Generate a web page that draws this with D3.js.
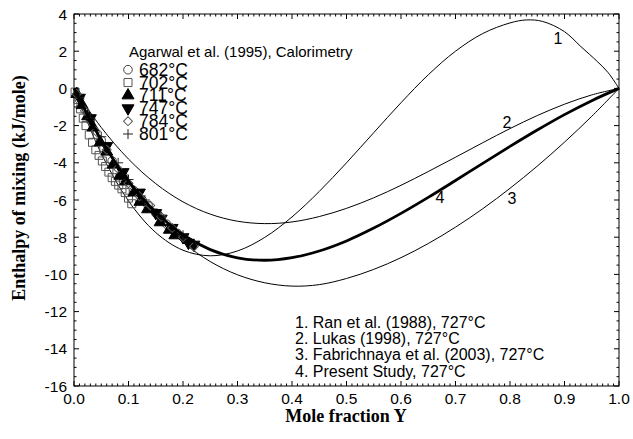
<!DOCTYPE html>
<html>
<head>
<meta charset="utf-8">
<script src="https://cdn.jsdelivr.net/npm/d3@7/dist/d3.min.js"></script>
<style>
  html, body { margin: 0; padding: 0; background: #fff; }
  svg { display: block; }
</style>
</head>
<body>
<svg id="chart" width="633" height="439"></svg>
<script>
// ---- tick labels ----
const xTickValues = [0, 0.1, 0.2, 0.3, 0.4, 0.5, 0.6, 0.7, 0.8, 0.9, 1.0];
const yTickValues = [4, 2, 0, -2, -4, -6, -8, -10, -12, -14, -16];

// ---- calculated enthalpy curves at 727 °C ----
const ranX   = [0, 0.05, 0.1, 0.15, 0.2, 0.25, 0.3, 0.35, 0.4, 0.45, 0.5, 0.55, 0.6, 0.65, 0.7, 0.75, 0.8, 0.83, 0.86, 0.9, 0.93, 0.96, 0.98, 1.0];
const ranY   = [0, -3.50, -6.05, -7.75, -8.70, -9.00, -8.74, -8.01, -6.91, -5.54, -4.00, -2.38, -0.77, 0.73, 2.00, 2.95, 3.52, 3.68, 3.60, 3.05, 2.25, 1.45, 0.85, 0];

const curveX = [0, 0.05, 0.1, 0.15, 0.2, 0.25, 0.3, 0.35, 0.4, 0.45, 0.5, 0.55, 0.6, 0.65, 0.7, 0.75, 0.8, 0.85, 0.9, 0.95, 1.0];
const lukasY = [0, -2.10, -3.80, -5.12, -6.10, -6.76, -7.14, -7.27, -7.18, -6.89, -6.45, -5.88, -5.21, -4.47, -3.70, -2.92, -2.16, -1.46, -0.85, -0.35, 0];
const fabrY  = [0, -2.79, -5.07, -6.88, -8.28, -9.31, -10.02, -10.45, -10.63, -10.55, -10.22, -9.73, -9.10, -8.34, -7.46, -6.47, -5.37, -4.18, -2.89, -1.50, 0];
const presY  = [0, -2.78, -4.98, -6.65, -7.87, -8.67, -9.11, -9.24, -9.10, -8.74, -8.20, -7.51, -6.72, -5.86, -4.95, -4.03, -3.12, -2.24, -1.41, -0.66, 0];

// ---- Agarwal et al. (1995) calorimetry ----
const t682X = [0.01, 0.03, 0.05, 0.07, 0.09, 0.11, 0.125, 0.136, 0.15, 0.17, 0.19];
const t682Y = [-0.6, -1.7, -2.8, -3.9, -4.7, -5.5, -6.0, -6.3, -6.7, -7.3, -7.8];
const t702X = [0.002, 0.007, 0.012, 0.017, 0.022, 0.028, 0.034, 0.040, 0.046, 0.052, 0.058, 0.064, 0.070, 0.076, 0.082, 0.088, 0.094, 0.100, 0.106];
const t702Y = [-0.2, -0.6, -1.1, -1.6, -2.0, -2.5, -2.9, -3.3, -3.6, -3.9, -4.2, -4.5, -4.8, -5.0, -5.2, -5.4, -5.6, -5.9, -6.2];
const t711X = [0.005, 0.015, 0.025, 0.035, 0.048, 0.06, 0.072, 0.084, 0.095, 0.11, 0.121, 0.135, 0.158, 0.175, 0.185];
const t711Y = [-0.3, -0.9, -1.5, -2.1, -2.9, -3.4, -4.1, -4.7, -5.0, -5.6, -6.1, -6.5, -7.2, -7.6, -7.9];
const t747X = [0.01, 0.03, 0.06, 0.09, 0.12, 0.15, 0.16, 0.18, 0.2, 0.21, 0.22];
const t747Y = [-0.5, -1.6, -3.1, -4.5, -5.6, -6.7, -7.0, -7.5, -8.0, -8.3, -8.4];
const t784X = [0.005, 0.02, 0.04, 0.06, 0.08, 0.1, 0.12, 0.14, 0.16, 0.18, 0.2, 0.22];
const t784Y = [-0.3, -1.2, -2.3, -3.3, -4.3, -5.1, -5.8, -6.3, -6.9, -7.5, -8.0, -8.5];
const t801X = [0.01, 0.03, 0.05, 0.081, 0.1, 0.13, 0.16, 0.2];
const t801Y = [-0.5, -1.6, -2.6, -4.0, -4.9, -6.0, -6.9, -7.9];

const seriesLabels = ["682°C", "702°C", "711°C", "747°C", "784°C", "801°C"];
const curveLabels = ["1. Ran et al. (1988), 727°C", "2. Lukas (1998), 727°C",
                     "3. Fabrichnaya et al. (2003), 727°C", "4. Present Study, 727°C"];

// ---- layout ----
const svg = d3.select("#chart");
const x = d3.scaleLinear().domain([0, 1]).range([74, 619]);
const y = d3.scaleLinear().domain([-16, 4]).range([386, 14]);
const sans = "'Liberation Sans', Arial, sans-serif";
const serif = "'Liberation Serif', 'Times New Roman', serif";

// frame
svg.append("rect")
  .attr("x", x(0)).attr("y", y(4))
  .attr("width", x(1) - x(0)).attr("height", y(-16) - y(4))
  .attr("fill", "none").attr("stroke", "#000").attr("stroke-width", 1);

// inward ticks on all four sides
const xMinor = d3.range(0, 101).map(i => i / 100);
const yMinor = d3.range(0, 41).map(i => -16 + i * 0.5);
const tickG = svg.append("g").attr("stroke", "#000").attr("stroke-width", 1);
xMinor.forEach(v => {
  const major = Math.abs(v * 10 - Math.round(v * 10)) < 1e-6;
  const len = major ? 5 : 2.5;
  tickG.append("line").attr("x1", x(v)).attr("x2", x(v)).attr("y1", y(-16)).attr("y2", y(-16) - len);
  tickG.append("line").attr("x1", x(v)).attr("x2", x(v)).attr("y1", y(4)).attr("y2", y(4) + len);
});
yMinor.forEach(v => {
  const major = Math.abs(v / 2 - Math.round(v / 2)) < 1e-6;
  const len = major ? 5 : 2.5;
  tickG.append("line").attr("x1", x(0)).attr("x2", x(0) + len).attr("y1", y(v)).attr("y2", y(v));
  tickG.append("line").attr("x1", x(1)).attr("x2", x(1) - len).attr("y1", y(v)).attr("y2", y(v));
});

// tick labels
svg.append("g").selectAll("text").data(xTickValues).join("text")
  .attr("x", d => x(d)).attr("y", 403.5)
  .attr("text-anchor", "middle")
  .attr("font-family", sans).attr("font-size", 15.5)
  .text(d => d.toFixed(1));
svg.append("g").selectAll("text").data(yTickValues).join("text")
  .attr("x", 67).attr("y", d => y(d))
  .attr("dy", "0.36em")
  .attr("text-anchor", "end")
  .attr("font-family", sans).attr("font-size", 15.5)
  .text(d => String(d));

// axis titles
svg.append("text")
  .attr("x", 346).attr("y", 422)
  .attr("text-anchor", "middle")
  .attr("font-family", serif).attr("font-weight", "bold").attr("font-size", 18)
  .text("Mole fraction Y");
svg.append("text")
  .attr("transform", "translate(25,188) rotate(-90)")
  .attr("text-anchor", "middle")
  .attr("font-family", serif).attr("font-weight", "bold").attr("font-size", 18)
  .text("Enthalpy of mixing (kJ/mole)");

// calculated curves
const line = d3.line()
  .x(d => x(d[0])).y(d => y(d[1]))
  .curve(d3.curveCatmullRom.alpha(0.5));
const zip = (a, b) => a.map((v, i) => [v, b[i]]);
const curveG = svg.append("g").attr("fill", "none").attr("stroke", "#000");
curveG.append("path").attr("d", line(zip(ranX, ranY))).attr("stroke-width", 1);
curveG.append("path").attr("d", line(zip(curveX, lukasY))).attr("stroke-width", 1);
curveG.append("path").attr("d", line(zip(curveX, fabrY))).attr("stroke-width", 1);

// experimental points
const markerDefs = [
  { xs: t682X, ys: t682Y, type: d3.symbolCircle,   size: 58, fill: "none", stroke: "#444", rot: 0 },
  { xs: t702X, ys: t702Y, type: d3.symbolSquare,   size: 64, fill: "none", stroke: "#555", rot: 0 },
  { xs: t711X, ys: t711Y, type: d3.symbolTriangle, size: 62, fill: "#000", stroke: "#000", rot: 0 },
  { xs: t747X, ys: t747Y, type: d3.symbolTriangle, size: 62, fill: "#000", stroke: "#000", rot: 180 },
  { xs: t784X, ys: t784Y, type: d3.symbolSquare,   size: 40, fill: "none", stroke: "#555", rot: 45 },
  { xs: t801X, ys: t801Y, type: null,              size: 5,  fill: "none", stroke: "#222", rot: 0 }
];
function drawMarker(g, def, px, py) {
  if (def.type === null) {
    g.append("path")
      .attr("d", `M${px - def.size},${py}H${px + def.size}M${px},${py - def.size}V${py + def.size}`)
      .attr("stroke", def.stroke).attr("stroke-width", 1).attr("fill", "none");
    return;
  }
  g.append("path")
    .attr("d", d3.symbol().type(def.type).size(def.size)())
    .attr("transform", `translate(${px},${py}) rotate(${def.rot})`)
    .attr("fill", def.fill).attr("stroke", def.stroke).attr("stroke-width", 1);
}
const ptsG = svg.append("g");
markerDefs.forEach(def => {
  def.xs.forEach((v, i) => drawMarker(ptsG, def, x(v), y(def.ys[i])));
});

// present assessment drawn last, thick
svg.append("path").attr("d", line(zip(curveX, presY)))
  .attr("fill", "none").attr("stroke", "#000").attr("stroke-width", 2.8);

// curve number labels
const numG = svg.append("g").attr("font-family", sans).attr("font-size", 16).attr("text-anchor", "middle");
numG.append("text").attr("x", 558).attr("y", 44).text("1");
numG.append("text").attr("x", 507).attr("y", 127.5).text("2");
numG.append("text").attr("x", 512).attr("y", 204).text("3");
numG.append("text").attr("x", 440).attr("y", 203).text("4");

// data legend
const legG = svg.append("g").attr("font-family", sans);
legG.append("text").attr("x", 129).attr("y", 56.5).attr("font-size", 15).text("Agarwal et al. (1995), Calorimetry");
seriesLabels.forEach((lab, i) => {
  const by = 75.7 + i * 12.86;
  drawMarker(legG, markerDefs[i], 128, by - 6);
  legG.append("text").attr("x", 139).attr("y", by).attr("font-size", 17.5).text(lab);
});

// curve legend
const cLeg = svg.append("g").attr("font-family", sans).attr("font-size", 16);
curveLabels.forEach((lab, i) => {
  cLeg.append("text").attr("x", 295).attr("y", 327.7 + i * 16.3).text(lab);
});
</script>
</body>
</html>
